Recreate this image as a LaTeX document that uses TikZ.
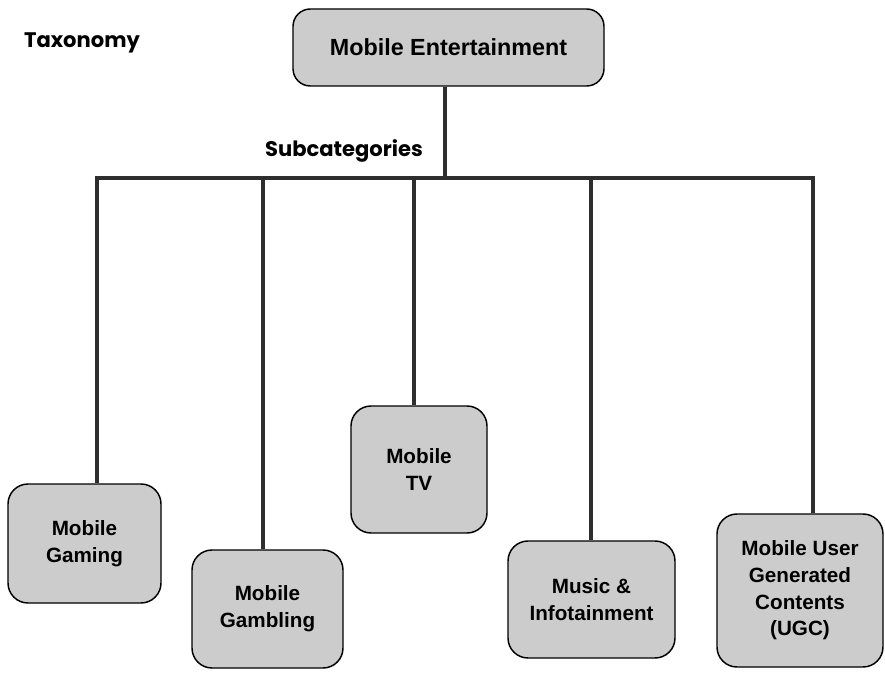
\documentclass[tikz,border=0pt]{standalone}
\usepackage{fontspec}
\setmainfont{Liberation Sans}
\newfontfamily\handfont{Poppins}
\definecolor{boxgray}{gray}{0.80}
\definecolor{linegray}{gray}{0.18}
\tikzset{
  catbox/.style={draw=black, line width=1.1pt, fill=boxgray, rounded corners=15pt, align=center, inner sep=0pt,
    font=\bfseries\fontsize{15.5}{20}\selectfont},
  branch/.style={draw=linegray, line width=3.6pt},
  handlabel/.style={inner sep=0pt, font=\handfont\bfseries\fontsize{15.8}{18}\selectfont}
}

\begin{document}
\begin{tikzpicture}[x=0.75pt,y=0.75pt,yscale=-1,xscale=1]
\useasboundingbox (0,0) rectangle (885,677);
% labels
\node[handlabel] (tax) at (82,43) {Taxonomy};
\node[handlabel] (sub) at (344,151) {Subcategories};
% boxes
\node[catbox, rounded corners=13pt, minimum width=311*0.75pt, minimum height=77*0.75pt, font=\bfseries\fontsize{17.5}{20}\selectfont] (ent) at (448.5,47.5) {Mobile Entertainment};
\node[catbox, minimum width=153*0.75pt, minimum height=119*0.75pt] (gam) at (84.5,543.5) {Mobile\\Gaming};
\node[catbox, minimum width=151*0.75pt, minimum height=118*0.75pt] (gbl) at (267.5,609) {Mobile\\Gambling};
\node[catbox, minimum width=136*0.75pt, minimum height=127*0.75pt] (tv) at (419,469.5) {Mobile\\TV};
\node[catbox, minimum width=167*0.75pt, minimum height=117*0.75pt] (mus) at (591.5,599.5) {Music \&\\Infotainment};
\node[catbox, minimum width=166*0.75pt, minimum height=153*0.75pt] (ugc) at (800,590.5) {Mobile User\\Generated\\Contents\\(UGC)};
% branch points on the bar
\coordinate (trunk) at (445,178);
\coordinate (d1) at (97,178);
\coordinate (d2) at (263,178);
\coordinate (d3) at (414,178);
\coordinate (d4) at (591,178);
\coordinate (d5) at (813,178);
% connectors
\draw[branch] (ent.south -| trunk) -- (trunk);
\draw[branch, line cap=rect] (d1) -- (d5);
\draw[branch] (d1) -- (d1 |- gam.north);
\draw[branch] (d2) -- (d2 |- gbl.north);
\draw[branch] (d3) -- (d3 |- tv.north);
\draw[branch] (d4) -- (d4 |- mus.north);
\draw[branch] (d5) -- (d5 |- ugc.north);
\end{tikzpicture}
\end{document}
